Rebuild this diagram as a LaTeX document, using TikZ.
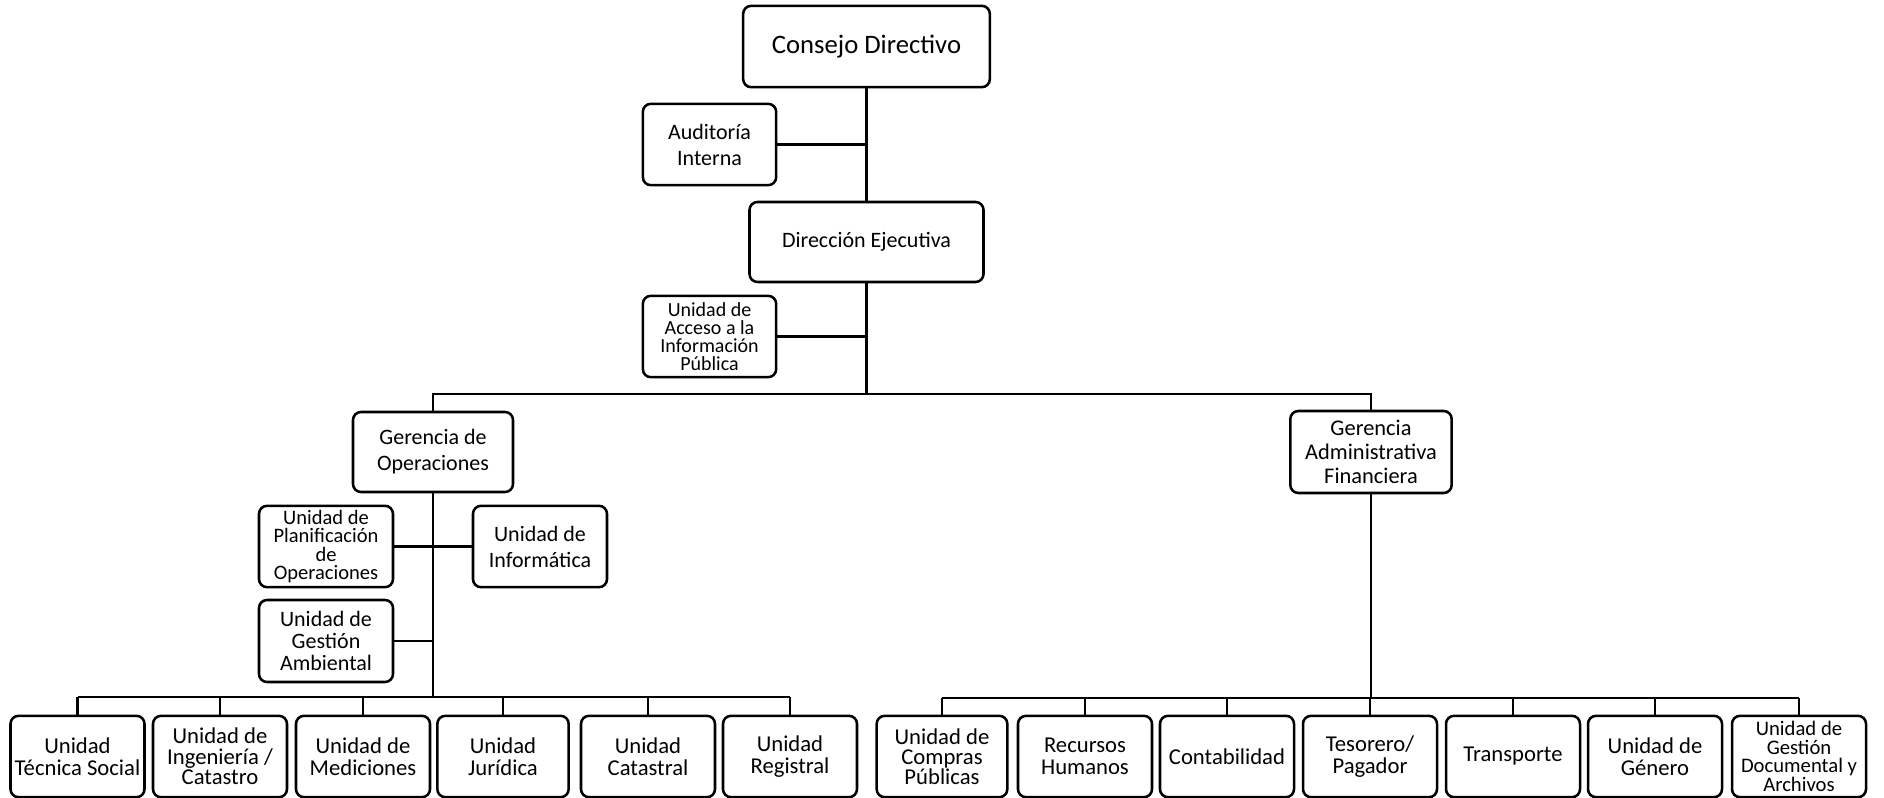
\documentclass[tikz,border=0pt]{standalone}
\usepackage{fontspec}
\setmainfont{Carlito}
\tikzset{every picture/.style={line width=0.75pt}}
\tikzset{
  orgbox/.style={draw, line width=1.9pt, rounded corners=6pt, align=center, inner sep=1pt,
    minimum width=100.5pt, minimum height=61pt, font=\fontsize{16.5}{19.5}\selectfont},
  rowbox/.style={orgbox, font=\fontsize{17}{16.5}\selectfont},
  wire/.style={line width=1.9pt},
}

\begin{document}
\begin{tikzpicture}[x=0.75pt,y=0.75pt,yscale=-1,xscale=1]
\useasboundingbox (0,0) rectangle (1884,798);

%Shape: Rounded Rect [id:consejo]
\node [orgbox, minimum width=185pt, font=\fontsize{20}{24}\selectfont] (consejo) at (866.5,46.5) {Consejo Directivo};
%Shape: Rounded Rect [id:auditoria]
\node [orgbox, minimum width=100pt] (auditoria) at (709.5,144.5) {Auditoría\\Interna};
%Shape: Rounded Rect [id:direccion]
\node [orgbox, minimum width=175.5pt, minimum height=60pt] (direccion) at (866.5,242) {Dirección Ejecutiva};
%Shape: Rounded Rect [id:acceso]
\node [orgbox, minimum width=100pt, font=\fontsize{15}{13.5}\selectfont] (acceso) at (709.5,336.5) {Unidad de\\Acceso a la\\Información\\Pública};

%Shape: Rounded Rect [id:gerops]
\node [orgbox, minimum width=120pt, minimum height=60pt] (gerops) at (433,452) {Gerencia de\\Operaciones};
%Shape: Rounded Rect [id:geradm]
\node [orgbox, minimum width=121pt, minimum height=61.5pt, font=\fontsize{16.8}{18}\selectfont] (geradm) at (1371,452) {Gerencia\\Administrativa\\Financiera};
%Shape: Rounded Rect [id:planif]
\node [orgbox, font=\fontsize{15.4}{13.7}\selectfont] (planif) at (326,546.5) {Unidad de\\Planificación\\de\\Operaciones};
%Shape: Rounded Rect [id:informatica]
\node [orgbox] (informatica) at (540,546.5) {Unidad de\\Informática};
%Shape: Rounded Rect [id:ambiental]
\node [orgbox, minimum height=61.5pt, font=\fontsize{16.5}{16.3}\selectfont] (ambiental) at (326,641) {Unidad de\\Gestión\\Ambiental};

% Text Node (operaciones row)
\node [rowbox] (tecnica) at (77.5,756.5) {Unidad\\Técnica Social};
\node [rowbox, font=\fontsize{17}{15.5}\selectfont] (ingenieria) at (220,756.5) {Unidad de\\Ingeniería /\\Catastro};
\node [rowbox] (mediciones) at (363,756.5) {Unidad de\\Mediciones};
\node [rowbox, minimum width=98.5pt] (juridica) at (503,756.5) {Unidad\\Jurídica};
\node [rowbox] (catastral) at (648,756.5) {Unidad\\Catastral};
\node [rowbox] (registral) at (790,756.5) {Unidad\\Registral};

% Text Node (administrativa row)
\node [rowbox, minimum width=98pt, font=\fontsize{17}{15.2}\selectfont] (compras) at (942,756.5) {Unidad de\\Compras\\Públicas};
\node [rowbox] (recursos) at (1085,756.5) {Recursos\\Humanos};
\node [rowbox] (contabilidad) at (1227,756.5) {Contabilidad};
\node [rowbox] (tesorero) at (1370,756.5) {Tesorero/\\Pagador};
\node [rowbox] (transporte) at (1513,756.5) {Transporte};
\node [rowbox] (genero) at (1655,756.5) {Unidad de\\Género};
\node [rowbox, font=\fontsize{15.5}{14}\selectfont] (documental) at (1799,756.5) {Unidad de\\Gestión\\Documental y\\Archivos};

%Straight Lines (main trunk)
\coordinate (topbus) at (866.5,394);
\draw [wire] (consejo.south) -- (direccion.north);
\draw [wire] (auditoria.east) -- (auditoria.east -| consejo);
\draw [wire] (direccion.south) -- (topbus);
\draw [wire] (acceso.east) -- (acceso.east -| direccion);
\draw [wire] (gerops.north) -- (gerops.north |- topbus) -- (geradm.north |- topbus) -- (geradm.north);

%Straight Lines (operaciones)
\coordinate (opsbus) at (433,697);
\draw [wire] (gerops.south) -- (opsbus);
\draw [wire] (planif.east) -- (informatica.west);
\draw [wire] (ambiental.east) -- (ambiental.east -| gerops);
\draw [wire] (tecnica.north |- opsbus) -- (registral.north |- opsbus);
\foreach \u in {tecnica,ingenieria,mediciones,juridica,catastral,registral}
  \draw [wire] (\u.north) -- (\u.north |- opsbus);

%Straight Lines (administrativa)
\coordinate (admbus) at (1371,698);
\draw [wire] (geradm.south) -- (admbus);
\draw [wire] (compras.north |- admbus) -- (documental.north |- admbus);
\foreach \u in {compras,recursos,contabilidad,tesorero,transporte,genero,documental}
  \draw [wire] (\u.north) -- (\u.north |- admbus);

\end{tikzpicture}
\end{document}
